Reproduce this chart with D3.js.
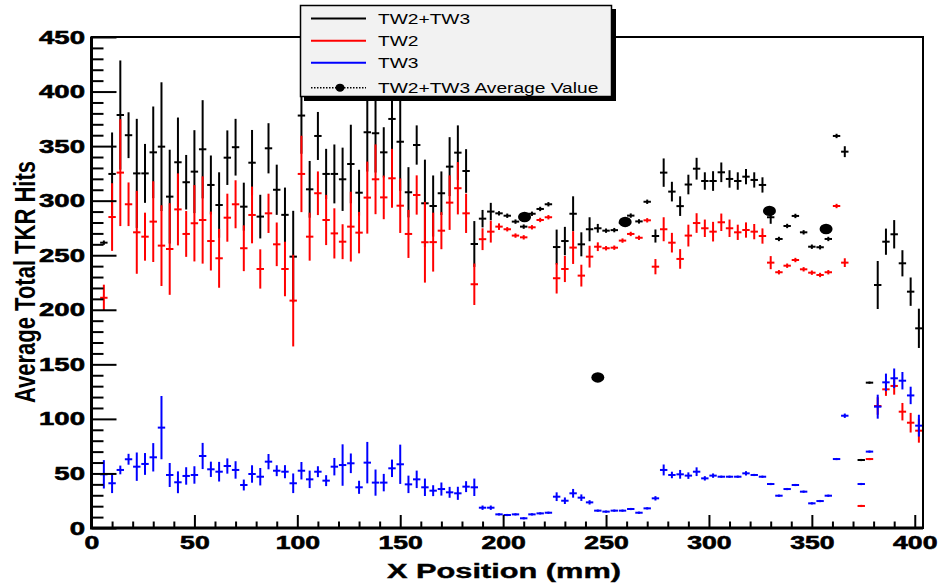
<!DOCTYPE html>
<html>
<head>
<meta charset="utf-8">
<script src="https://cdn.jsdelivr.net/npm/d3@7"></script>
<style>
  body { margin: 0; background: #fff; }
  svg { display: block; }
</style>
</head>
<body>
<div id="chart"></div>
<script>
// bin centres (mm); no entry at 370
const xPos = [
  6, 10, 14, 18, 22, 26, 30, 34, 38, 42,
  46, 50, 54, 58, 62, 66, 70, 74, 78, 82,
  86, 90, 94, 98, 102, 106, 110, 114, 118, 122,
  126, 130, 134, 138, 142, 146, 150, 154, 158, 162,
  166, 170, 174, 178, 182, 186, 190, 194, 198, 202,
  206, 210, 214, 218, 222, 226, 230, 234, 238, 242,
  246, 250, 254, 258, 262, 266, 270, 274, 278, 282,
  286, 290, 294, 298, 302, 306, 310, 314, 318, 322,
  326, 330, 334, 338, 342, 346, 350, 354, 358, 362, 366,
  374, 378, 382, 386, 390, 394, 398, 402
];

// TW2+TW3
const sumVal = [
  261.5, 324.5, 378.5, 360, 325, 325, 344.3, 349.5, 303.7, 335.2,
  316.9, 326.6, 347.1, 314.4, 296, 339.4, 349, 294.5, 334.8, 285.4,
  348, 310, 287, 248.7, 378, 310.4, 359.3, 324.5, 324.5, 319.6,
  333.6, 307.3, 362.7, 361.8, 344.3, 374.9, 354, 307.7, 351, 297.6,
  295.1, 306.8, 331.2, 344, 327.2, 260.3, 283.5, 290, 288.4, 286.2,
  280.8, 276.2, 288, 292.4, 296.7, 257.5, 263, 288, 260, 273.8,
  274.7, 272.5, 273, 279.5, 286.3, 281, 299, 267.6, 325.7, 308.3,
  295, 314.8, 329.3, 318, 318, 326, 319.9, 318, 322, 319,
  314.4, 284.8, 264.9, 276.8, 286, 271, 257.8, 257.3, 264.9, 359.3, 344.9,
  62.3, 133.2, 222.7, 262.4, 269.2, 242.6, 216.6, 183
];
const sumErr = [
  2, 38, 50, 21, 50, 27, 42, 59, 43, 41,
  25, 38, 45, 27, 30, 25, 26, 22, 30, 20,
  23, 23, 25, 42, 35, 26, 22, 23, 27, 29,
  36, 21, 36, 36, 23, 30, 45, 23, 18, 40,
  28, 20, 27, 25, 20, 21, 8, 8, 2, 2,
  2, 2, 2, 2, 2, 16, 13, 16, 11, 11,
  4, 2, 2, 2, 2, 2, 2, 6, 13, 9,
  9, 9, 10, 8, 9, 9, 8, 8, 7, 7,
  7, 6, 2, 2, 2, 2, 2, 2, 2, 2, 5,
  1, 1, 22, 12, 13, 12, 13, 18
];

// TW2
const tw2Val = [
  211, 285, 325.7, 296.7, 271, 267, 280.8, 258.8, 255.7, 292,
  269.5, 279.3, 282.3, 263, 247.2, 284.4, 296.7, 256.4, 286.9, 237.4,
  288.4, 260, 237.4, 208.4, 324.5, 267, 306.8, 282.3, 270, 262.4,
  276.2, 270.7, 302.8, 319.6, 303, 320.5, 295.4, 269.5, 305.2, 261.9,
  262, 272.5, 298.2, 311.4, 288.4, 223.4, 264.7, 271.6, 276.2, 273.8,
  268, 266.4, 275.6, 282.3, 284.8, 228.9, 237.4, 257, 231.3, 248.7,
  257.8, 256.4, 256.9, 263.4, 269.5, 266, 282, 239.5, 273.8, 261.5,
  246.6, 268, 279.5, 274.7, 271.6, 280.2, 274.7, 271, 273.1, 271.6,
  267.6, 243.2, 234.4, 240.4, 245.6, 237.1, 234, 231.9, 234.4, 295.1, 243.2,
  20.2, 63.2, 111.8, 127.1, 130.2, 106.6, 96.5, 89.2
];
const tw2Err = [
  12, 31, 49, 20, 38, 22, 37, 37, 42, 33,
  21, 35, 40, 27, 27, 22, 22, 21, 26, 18,
  18, 20, 25, 42, 35, 22, 20, 23, 23, 16,
  32, 19, 33, 32, 20, 27, 25, 22, 18, 37,
  27, 17, 25, 24, 18, 19, 10, 10, 3, 2,
  2, 2, 2, 2, 2, 14, 12, 15, 10, 10,
  4, 2, 2, 2, 2, 2, 2, 7, 11, 9,
  9, 10, 9, 8, 9, 8, 8, 7, 7, 7,
  7, 6, 2, 2, 2, 2, 2, 2, 2, 2, 4,
  1, 1, 8, 6, 8, 8, 9, 11
];

// TW3
const tw3Val = [
  49.2, 41, 53.2, 63, 56.2, 58.7, 64.8, 92, 48.6, 41.9,
  47.7, 48.6, 66, 53.8, 51.6, 56.8, 53.2, 39.4, 49.5, 47,
  60.8, 52.5, 51.6, 41, 52.5, 44.6, 51.6, 43.4, 56.2, 57.7,
  59.3, 37.3, 59.9, 41.6, 41.6, 54.7, 58.4, 40, 44.6, 37.3,
  34.2, 35.7, 32.7, 31.8, 37.9, 37.3, 18.6, 18.6, 12.5, 11.9,
  12.5, 8.9, 12.5, 13.4, 14, 28.7, 25, 31.8, 27.8, 23.5,
  15.9, 15, 15.9, 15.9, 17.4, 14, 18, 27.2, 53.2, 48.6,
  49.2, 48, 51.6, 45.5, 48, 47, 47, 47, 50.1, 48.6,
  47, 40.3, 29.6, 35.7, 39.4, 33.3, 22.6, 24.7, 29.6, 63.2, 102.9,
  40.3, 70, 111.2, 133.5, 137.2, 135, 121.5, 93.8
];
const tw3Err = [
  13, 9, 4, 5, 13, 10, 13, 29, 11, 10,
  8, 8, 12, 7, 9, 7, 8, 5, 8, 8,
  7, 5, 6, 9, 8, 8, 5, 5, 8, 19,
  9, 6, 19, 12, 8, 8, 18, 8, 8, 8,
  5, 6, 5, 6, 5, 8, 2, 2, 1, 1,
  1, 1, 1, 1, 1, 4, 3, 4, 3, 2,
  1, 1, 1, 1, 1, 1, 1, 2, 5, 3,
  4, 3, 4, 2, 2, 1, 1, 1, 2, 1,
  1, 1, 1, 1, 1, 1, 1, 1, 1, 1, 2,
  1, 1, 11, 8, 9, 8, 8, 10
];

// TW2+TW3 average value markers
const avgX = [210.4, 246, 259.3, 329.4, 356.9];
const avgVal = [285, 138, 280.5, 290.6, 274];

const yMajor = [0, 50, 100, 150, 200, 250, 300, 350, 400, 450];
const xMajor = [0, 50, 100, 150, 200, 250, 300, 350, 400];

const legendItems = [
  { label: "TW2+TW3", color: "#000" },
  { label: "TW2", color: "#ff0000" },
  { label: "TW3", color: "#0000ff" },
  { label: "TW2+TW3 Average Value", color: "#000", marker: true }
];

const width = 942, height = 583;
const fontFam = "'Liberation Sans', Arial, Helvetica, sans-serif";

const svg = d3.select("#chart").append("svg")
  .attr("width", width)
  .attr("height", height);

svg.append("rect").attr("width", width).attr("height", height).attr("fill", "#fff");

const x = d3.scaleLinear().domain([0, 404]).range([91.5, 923]);
const y = d3.scaleLinear().domain([0, 450]).range([528, 37]);

const halfBin = 1.8;

function drawSeries(vals, errs, color) {
  const data = xPos.map((d, i) => ({ x: d, v: vals[i], e: errs[i] }));
  const g = svg.append("g")
    .attr("stroke", color)
    .attr("stroke-width", 2);

  g.selectAll("line.err")
    .data(data)
    .enter().append("line")
    .attr("class", "err")
    .attr("x1", d => x(d.x))
    .attr("x2", d => x(d.x))
    .attr("y1", d => y(d.v - d.e))
    .attr("y2", d => y(d.v + d.e));

  g.selectAll("line.bin")
    .data(data)
    .enter().append("line")
    .attr("class", "bin")
    .attr("x1", d => x(d.x - halfBin))
    .attr("x2", d => x(d.x + halfBin))
    .attr("y1", d => y(d.v))
    .attr("y2", d => y(d.v));
}

drawSeries(sumVal, sumErr, "#000");
drawSeries(tw2Val, tw2Err, "#ff0000");
drawSeries(tw3Val, tw3Err, "#0000ff");

svg.append("g").selectAll("ellipse")
  .data(avgX.map((d, i) => ({ x: d, v: avgVal[i] })))
  .enter().append("ellipse")
  .attr("cx", d => x(d.x))
  .attr("cy", d => y(d.v))
  .attr("rx", 6.5)
  .attr("ry", 5.2)
  .attr("fill", "#000");

// axes, ROOT style ticks drawn inwards
const xMinor = d3.range(0, 401, 10).filter(v => v % 50 !== 0);
const yMinor = d3.range(0, 451, 10).filter(v => v % 50 !== 0);

svg.append("g")
  .attr("transform", "translate(0,528)")
  .call(d3.axisBottom(x).tickValues(xMinor).tickSize(-6.5).tickFormat(""))
  .call(g => g.select(".domain").remove())
  .selectAll("line").attr("stroke-width", 2);

const xAxis = svg.append("g")
  .attr("transform", "translate(0,528)")
  .call(d3.axisBottom(x).tickValues(xMajor).tickSize(-13).tickPadding(8))
  .call(g => g.select(".domain").remove());
xAxis.selectAll("line").attr("stroke-width", 2);
xAxis.selectAll("text")
  .attr("font-family", fontFam)
  .attr("font-weight", "bold")
  .attr("font-size", 19)
  .attr("fill", "#000")
  .attr("stroke", "#000")
  .attr("stroke-width", 0.6)
  .attr("transform", "scale(1.4,1)");

svg.append("g")
  .attr("transform", "translate(91.5,0)")
  .call(d3.axisLeft(y).tickValues(yMinor).tickSize(-12).tickFormat(""))
  .call(g => g.select(".domain").remove())
  .selectAll("line").attr("stroke-width", 2);

const yAxis = svg.append("g")
  .attr("transform", "translate(91.5,0)")
  .call(d3.axisLeft(y).tickValues(yMajor).tickSize(-25))
  .call(g => g.select(".domain").remove());
yAxis.selectAll("line").attr("stroke-width", 2);
yAxis.selectAll("text")
  .attr("font-family", fontFam)
  .attr("font-weight", "bold")
  .attr("font-size", 19)
  .attr("fill", "#000")
  .attr("stroke", "#000")
  .attr("stroke-width", 0.6)
  .attr("x", -6.5 / 1.45)
  .attr("transform", "scale(1.45,1)");

// frame
svg.append("rect")
  .attr("x", 91.5).attr("y", 37)
  .attr("width", 923 - 91.5).attr("height", 528 - 37)
  .attr("fill", "none")
  .attr("stroke", "#000")
  .attr("stroke-width", 2);
svg.append("line")
  .attr("x1", 91.5).attr("x2", 91.5).attr("y1", 37).attr("y2", 529)
  .attr("stroke", "#000").attr("stroke-width", 3);
svg.append("line")
  .attr("x1", 90).attr("x2", 923).attr("y1", 528).attr("y2", 528)
  .attr("stroke", "#000").attr("stroke-width", 3);

// axis titles
svg.append("g")
  .attr("transform", "translate(504,578) scale(1.5,1)")
  .append("text")
  .attr("text-anchor", "middle")
  .attr("font-family", fontFam)
  .attr("font-weight", "bold")
  .attr("font-size", 20.5)
  .attr("stroke", "#000")
  .attr("stroke-width", 0.4)
  .text("X Position (mm)");

svg.append("g")
  .attr("transform", "translate(35,282) scale(1.37,1) rotate(-90)")
  .append("text")
  .attr("text-anchor", "middle")
  .attr("font-family", fontFam)
  .attr("font-weight", "bold")
  .attr("font-size", 22)
  .text("Average Total TKR Hits");

// legend
const lg = svg.append("g");
lg.append("rect")
  .attr("x", 304).attr("y", 9).attr("width", 312).attr("height", 92)
  .attr("fill", "#000");
lg.append("rect")
  .attr("x", 300.5).attr("y", 5.5).attr("width", 311).attr("height", 91)
  .attr("fill", "#f2f2f2")
  .attr("stroke", "#000")
  .attr("stroke-width", 1.5);

const rowY = [18.5, 40.7, 62.7, 87.7];
const rows = lg.selectAll("g.row")
  .data(legendItems)
  .enter().append("g")
  .attr("class", "row")
  .attr("transform", (d, i) => `translate(0,${rowY[i]})`);

rows.append("line")
  .attr("x1", 311).attr("x2", 366)
  .attr("y1", 0).attr("y2", 0)
  .attr("stroke", d => d.color)
  .attr("stroke-width", d => d.marker ? 1.5 : 2)
  .attr("stroke-dasharray", d => d.marker ? "1.5,1.5" : null);

rows.filter(d => d.marker).append("ellipse")
  .attr("cx", 340).attr("cy", 0)
  .attr("rx", 4.5).attr("ry", 4)
  .attr("fill", "#000");

rows.append("g")
  .attr("transform", "translate(378,5.5) scale(1.37,1)")
  .append("text")
  .attr("font-family", fontFam)
  .attr("font-size", 14)
  .attr("fill", "#000")
  .text(d => d.label);
</script>
</body>
</html>
